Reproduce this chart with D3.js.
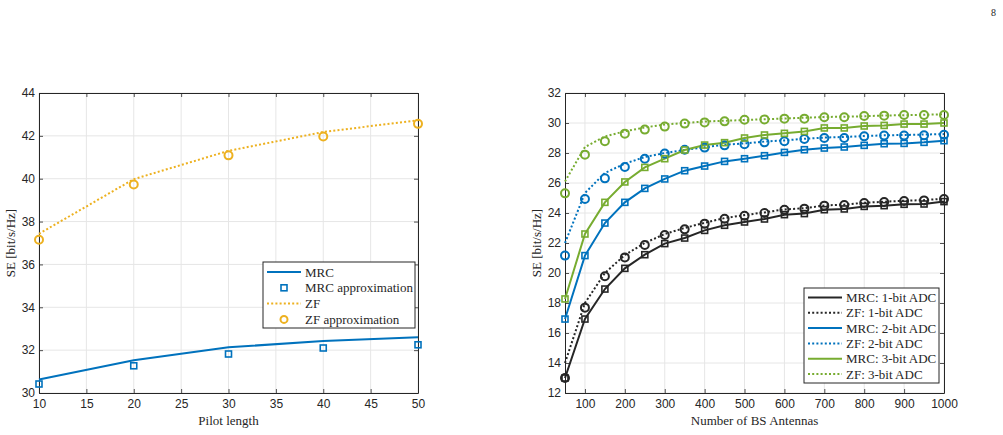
<!DOCTYPE html>
<html>
<head>
<meta charset="utf-8">
<script src="https://cdn.jsdelivr.net/npm/d3@7"></script>
<style>
  body { margin: 0; background: #fff; }
</style>
</head>
<body>
<svg id="chart" width="1003" height="435"></svg>
<script>
// ---- Left chart: SE vs pilot length ----
const pilotLength = [10, 20, 30, 40, 50];
const mrcLine     = [30.63, 31.53, 32.13, 32.43, 32.6];
const mrcApprox   = [30.42, 31.27, 31.82, 32.1, 32.25];
const zfLine      = [37.43, 39.98, 41.3, 42.18, 42.73];
const zfApprox    = [37.15, 39.73, 41.09, 41.97, 42.56];

// ---- Right chart: SE vs number of BS antennas ----
const antennas = [50, 100, 150, 200, 250, 300, 350, 400, 450, 500,
                  550, 600, 650, 700, 750, 800, 850, 900, 950, 1000];
const mrc1bit = [13.0, 16.93, 18.93, 20.31, 21.22, 21.96, 22.33, 22.84, 23.18, 23.4,
                 23.6, 23.89, 23.96, 24.22, 24.27, 24.44, 24.49, 24.58, 24.6, 24.76];
const zf1bitLine = [14.0, 18.0, 20.0, 21.2, 22.0, 22.6, 23.0, 23.35, 23.66, 23.86,
                    24.04, 24.24, 24.32, 24.5, 24.56, 24.68, 24.75, 24.82, 24.86, 24.95];
const zf1bit = [13.0, 17.69, 19.78, 21.04, 21.87, 22.53, 22.91, 23.29, 23.62, 23.82,
                24.0, 24.22, 24.29, 24.49, 24.53, 24.67, 24.73, 24.8, 24.84, 24.93];
const mrc2bit = [16.93, 21.16, 23.33, 24.71, 25.64, 26.27, 26.82, 27.13, 27.44, 27.62,
                 27.82, 28.04, 28.22, 28.33, 28.4, 28.51, 28.62, 28.64, 28.71, 28.82];
const zf2bitLine = [22.0, 25.33, 26.67, 27.29, 27.73, 28.0, 28.2, 28.38, 28.55, 28.64,
                    28.76, 28.84, 28.95, 29.03, 29.07, 29.13, 29.18, 29.2, 29.23, 29.26];
const zf2bit = [21.16, 24.93, 26.31, 27.07, 27.62, 27.96, 28.22, 28.36, 28.51, 28.58,
                28.71, 28.78, 28.93, 29.0, 29.0, 29.11, 29.16, 29.16, 29.18, 29.22];
const mrc3bit = [18.27, 22.6, 24.71, 26.07, 27.04, 27.62, 28.2, 28.53, 28.69, 29.0,
                 29.2, 29.31, 29.44, 29.67, 29.67, 29.8, 29.84, 29.93, 29.93, 30.0];
const zf3bitLine = [26.1, 28.4, 29.1, 29.45, 29.7, 29.9, 30.0, 30.1, 30.15, 30.2,
                    30.25, 30.3, 30.35, 30.4, 30.42, 30.45, 30.5, 30.52, 30.55, 30.58];
const zf3bit = [25.31, 27.89, 28.78, 29.29, 29.56, 29.76, 29.96, 30.04, 30.11, 30.22,
                30.24, 30.29, 30.29, 30.38, 30.38, 30.47, 30.49, 30.53, 30.53, 30.53];

const leftXTicks = [10, 15, 20, 25, 30, 35, 40, 45, 50];
const leftYTicks = [30, 32, 34, 36, 38, 40, 42, 44];
const rightXTicks = [100, 200, 300, 400, 500, 600, 700, 800, 900, 1000];
const rightYTicks = [12, 14, 16, 18, 20, 22, 24, 26, 28, 30, 32];

const BLUE = '#0072BD', YELLOW = '#EDB120', BLACK = '#262626', GREEN = '#77AC30';
const AXIS = '#262626', GRID = '#e6e6e6';
const SANS = '"Liberation Sans", Arial, Helvetica, sans-serif';
const SERIF = '"Liberation Serif", "Times New Roman", "DejaVu Serif", serif';

const svg = d3.select('#chart');

// page number
svg.append('text')
    .attr('x', 996).attr('y', 16)
    .attr('text-anchor', 'end')
    .style('font-family', SERIF).style('font-size', '10px').style('fill', AXIS)
    .text('8');

// Draws a MATLAB-style boxed axes and returns the scales
function drawAxes(box, xDomain, yDomain, xTicks, yTicks, xTitle, yTitle, yTitleX) {
    const x = d3.scaleLinear().domain(xDomain).range([box.left, box.right]);
    const y = d3.scaleLinear().domain(yDomain).range([box.bottom, box.top]);
    const g = svg.append('g');

    // grid
    g.selectAll('.gx').data(xTicks).enter().append('line')
        .attr('x1', d => x(d)).attr('x2', d => x(d))
        .attr('y1', box.top).attr('y2', box.bottom)
        .attr('stroke', GRID).attr('stroke-width', 1);
    g.selectAll('.gy').data(yTicks).enter().append('line')
        .attr('x1', box.left).attr('x2', box.right)
        .attr('y1', d => y(d)).attr('y2', d => y(d))
        .attr('stroke', GRID).attr('stroke-width', 1);

    // axes via d3 (inward ticks) on all four sides
    const tl = 4;
    const fmt = d3.format('d');
    g.append('g').attr('transform', `translate(0,${box.bottom})`)
        .call(d3.axisBottom(x).tickValues(xTicks).tickFormat(fmt).tickSizeInner(-tl).tickSizeOuter(0).tickPadding(6));
    g.append('g').attr('transform', `translate(0,${box.top})`)
        .call(d3.axisTop(x).tickValues(xTicks).tickSizeInner(-tl).tickSizeOuter(0).tickFormat(''));
    g.append('g').attr('transform', `translate(${box.left},0)`)
        .call(d3.axisLeft(y).tickValues(yTicks).tickFormat(fmt).tickSizeInner(-tl).tickSizeOuter(0).tickPadding(4));
    g.append('g').attr('transform', `translate(${box.right},0)`)
        .call(d3.axisRight(y).tickValues(yTicks).tickSizeInner(-tl).tickSizeOuter(0).tickFormat(''));

    g.selectAll('.domain').attr('stroke', AXIS).attr('stroke-width', 1);
    g.selectAll('.tick line').attr('stroke', AXIS).attr('stroke-width', 0.8);
    g.selectAll('.tick text').attr('fill', AXIS)
        .style('font-family', SANS).style('font-size', '12px');

    svg.append('text')
        .attr('x', (box.left + box.right) / 2).attr('y', box.bottom + 32)
        .attr('text-anchor', 'middle')
        .style('font-family', SERIF).style('font-size', '13px').style('fill', AXIS)
        .text(xTitle);
    svg.append('text')
        .attr('transform', `translate(${yTitleX},${(box.top + box.bottom) / 2}) rotate(-90)`)
        .attr('text-anchor', 'middle')
        .style('font-family', SERIF).style('font-size', '13px').style('fill', AXIS)
        .text(yTitle);
    return { x, y };
}

function drawLine(s, xs, ys, color, dotted) {
    const line = d3.line().x((d, i) => s.x(xs[i])).y(d => s.y(d));
    svg.append('path').datum(ys)
        .attr('d', line)
        .attr('fill', 'none')
        .attr('stroke', color)
        .attr('stroke-width', 2)
        .attr('stroke-dasharray', dotted ? '2,2.2' : null);
}

function drawSquares(s, xs, ys, color, size) {
    svg.append('g').selectAll('rect').data(ys).enter().append('rect')
        .attr('x', (d, i) => s.x(xs[i]) - size / 2)
        .attr('y', d => s.y(d) - size / 2)
        .attr('width', size).attr('height', size)
        .attr('fill', 'none').attr('stroke', color).attr('stroke-width', 1.6);
}

function drawCircles(s, xs, ys, color, r) {
    svg.append('g').selectAll('circle').data(ys).enter().append('circle')
        .attr('cx', (d, i) => s.x(xs[i]))
        .attr('cy', d => s.y(d))
        .attr('r', r)
        .attr('fill', 'none').attr('stroke', color).attr('stroke-width', 2);
}

function drawLegend(box, rows, rowH) {
    const g = svg.append('g');
    g.append('rect')
        .attr('x', box.x).attr('y', box.y).attr('width', box.w).attr('height', box.h)
        .attr('fill', '#fff').attr('stroke', AXIS).attr('stroke-width', 1);
    rows.forEach((r, i) => {
        const cy = box.y + box.pad + i * rowH;
        const x0 = box.x + 4, x1 = box.x + 38, xm = (x0 + x1) / 2;
        if (r.line) {
            g.append('line').attr('x1', x0).attr('x2', x1).attr('y1', cy).attr('y2', cy)
                .attr('stroke', r.color).attr('stroke-width', 2)
                .attr('stroke-dasharray', r.line === 'dot' ? '2,2.2' : null);
        }
        if (r.marker === 'square') {
            g.append('rect').attr('x', xm - 3).attr('y', cy - 3).attr('width', 6).attr('height', 6)
                .attr('fill', 'none').attr('stroke', r.color).attr('stroke-width', 1.6);
        } else if (r.marker === 'circle') {
            g.append('circle').attr('cx', xm).attr('cy', cy).attr('r', 3.5)
                .attr('fill', 'none').attr('stroke', r.color).attr('stroke-width', 2);
        }
        g.append('text')
            .attr('x', x1 + 4).attr('y', cy).attr('dy', '0.35em')
            .style('font-family', SERIF).style('font-size', '13px').style('fill', AXIS)
            .text(r.label);
    });
}

// ---- Left chart ----
const L = drawAxes({ left: 39, right: 418, top: 93, bottom: 393 },
    [10, 50], [30, 44], leftXTicks, leftYTicks, 'Pilot length', 'SE [bit/s/Hz]', 15);
drawLine(L, pilotLength, mrcLine, BLUE, false);
drawLine(L, pilotLength, zfLine, YELLOW, true);
drawSquares(L, pilotLength, mrcApprox, BLUE, 6);
drawCircles(L, pilotLength, zfApprox, YELLOW, 4);
drawLegend({ x: 263, y: 262, w: 152, h: 66, pad: 10 }, [
    { label: 'MRC', color: BLUE, line: 'solid' },
    { label: 'MRC approximation', color: BLUE, marker: 'square' },
    { label: 'ZF', color: YELLOW, line: 'dot' },
    { label: 'ZF approximation', color: YELLOW, marker: 'circle' }
], 15.8);

// ---- Right chart ----
const R = drawAxes({ left: 565, right: 944, top: 93, bottom: 393 },
    [50, 1000], [12, 32], rightXTicks, rightYTicks, 'Number of BS Antennas', 'SE [bit/s/Hz]', 541);
drawLine(R, antennas, mrc1bit, BLACK, false);
drawLine(R, antennas, zf1bitLine, BLACK, true);
drawLine(R, antennas, mrc2bit, BLUE, false);
drawLine(R, antennas, zf2bitLine, BLUE, true);
drawLine(R, antennas, mrc3bit, GREEN, false);
drawLine(R, antennas, zf3bitLine, GREEN, true);
drawSquares(R, antennas, mrc1bit, BLACK, 6);
drawCircles(R, antennas, zf1bit, BLACK, 4);
drawSquares(R, antennas, mrc2bit, BLUE, 6);
drawCircles(R, antennas, zf2bit, BLUE, 4);
drawSquares(R, antennas, mrc3bit, GREEN, 6);
drawCircles(R, antennas, zf3bit, GREEN, 4);
drawLegend({ x: 804, y: 288, w: 135, h: 95, pad: 9.5 }, [
    { label: 'MRC: 1-bit ADC', color: BLACK, line: 'solid' },
    { label: 'ZF: 1-bit ADC', color: BLACK, line: 'dot' },
    { label: 'MRC: 2-bit ADC', color: BLUE, line: 'solid' },
    { label: 'ZF: 2-bit ADC', color: BLUE, line: 'dot' },
    { label: 'MRC: 3-bit ADC', color: GREEN, line: 'solid' },
    { label: 'ZF: 3-bit ADC', color: GREEN, line: 'dot' }
], 15.3);
</script>
</body>
</html>
